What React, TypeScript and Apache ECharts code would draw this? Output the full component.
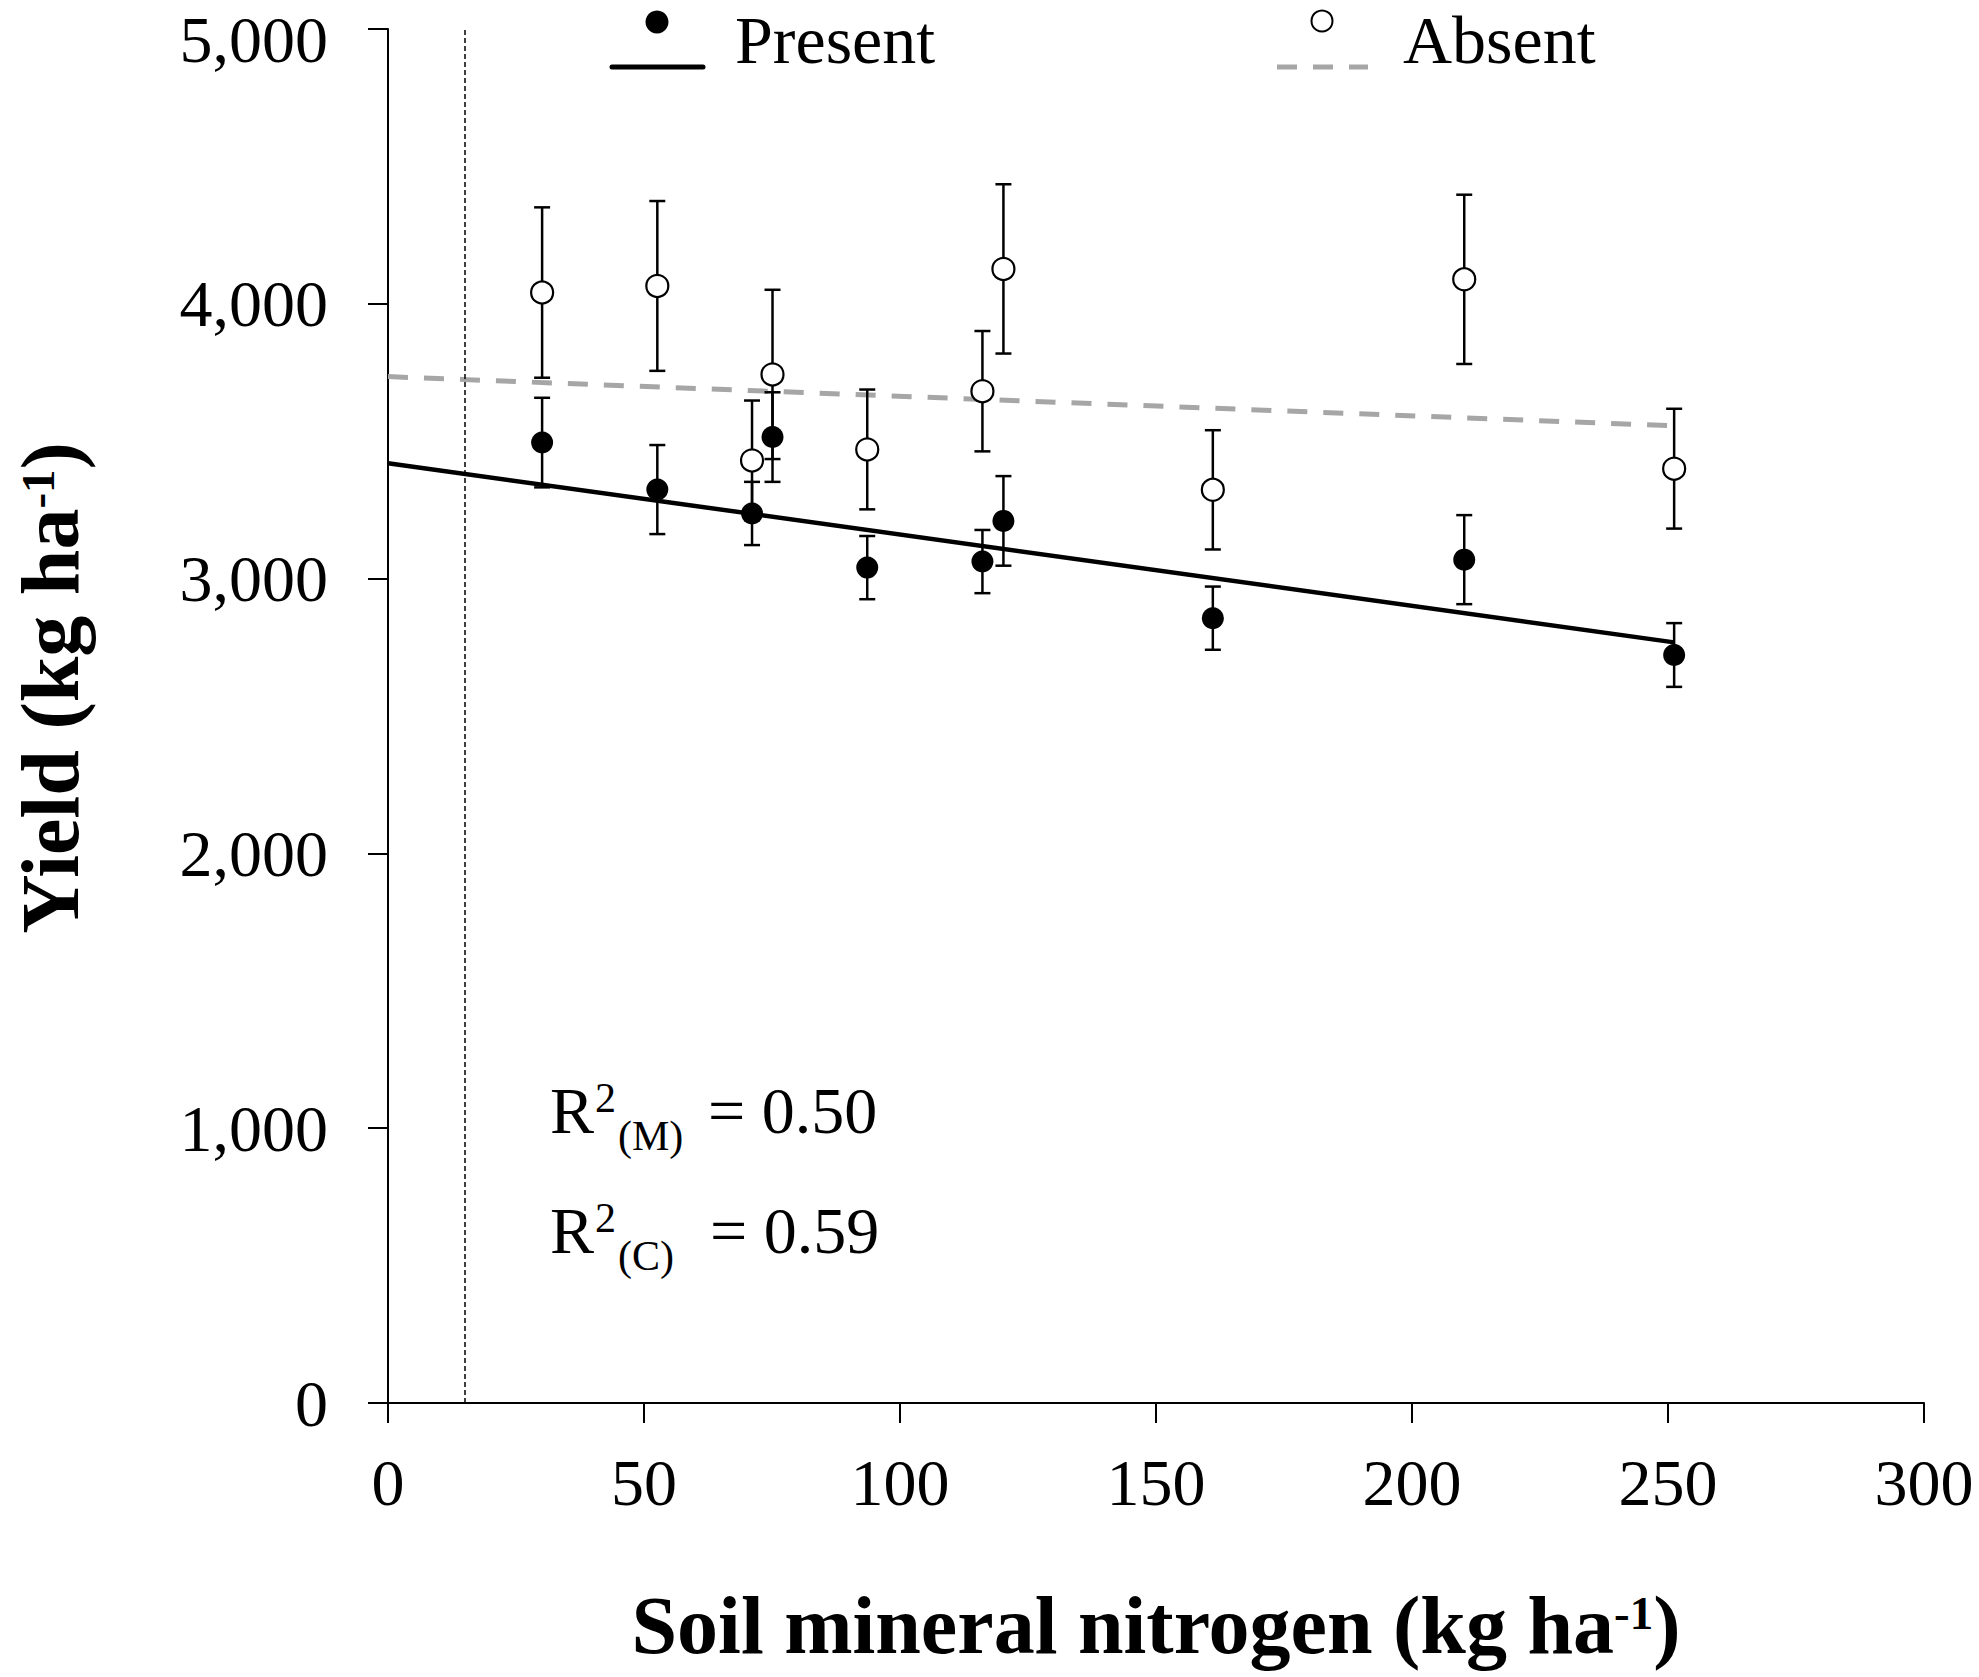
import React, { useEffect, useRef } from "react";
import * as echarts from "echarts";

// ---- data ----
const nitrogen = [30.1, 52.6, 71.1, 75.1, 93.6, 116.1, 120.2, 161.1, 210.2, 251.2];
const presentYield = [3495, 3324, 3237, 3515, 3040, 3062, 3210, 2856, 3069, 2722];
const presentSE = [163, 162, 115, 163, 115, 115, 163, 115, 162, 116];
const absentYield = [4041, 4065, 3430, 3743, 3470, 3682, 4127, 3323, 4089, 3400];
const absentSE = [310, 309, 218, 308, 218, 219, 308, 217, 308, 218];
const fitX = [0, 251.2];
const presentFit = [3420, 2768];
const absentFit = [3735, 3556];
const thresholdN = 15;
const xTickLabels = ["0", "50", "100", "150", "200", "250", "300"];
const yTickLabels = ["0", "1,000", "2,000", "3,000", "4,000", "5,000"];
const seriesNames = ["Present", "Absent"];
const r2Labels = ["(M)", "(C)"];
const r2Values = ["0.50", "0.59"];

const FONT = "'Liberation Serif', 'Times New Roman', serif";

function txt(text: string, x: number, y: number, size: number, extra: any = {}) {
  return {
    type: "text",
    x,
    y,
    silent: true,
    style: {
      text,
      fill: "#000",
      fontSize: size,
      fontFamily: FONT,
      fontWeight: "normal",
      align: "left",
      textAlign: "left",
      verticalAlign: "middle",
      textVerticalAlign: "middle",
      ...extra,
    },
  };
}

export default function App() {
  const ref = useRef<HTMLDivElement>(null);
  useEffect(() => {
    if (!ref.current) return;
    const chart = echarts.init(ref.current, undefined, { renderer: "svg" });

    const errData = (ys: number[], se: number[]) =>
      nitrogen.map((x, i) => [x, ys[i] - se[i], ys[i] + se[i]]);

    const renderErr = (params: any, api: any) => {
      const x = api.value(0);
      const top = api.coord([x, api.value(2)]);
      const bot = api.coord([x, api.value(1)]);
      const hw = 8;
      const style = { stroke: "#000", lineWidth: 2.5, fill: "none" };
      return {
        type: "group",
        children: [
          { type: "line", shape: { x1: top[0], y1: top[1], x2: bot[0], y2: bot[1] }, style },
          { type: "line", shape: { x1: top[0] - hw, y1: top[1], x2: top[0] + hw, y2: top[1] }, style },
          { type: "line", shape: { x1: bot[0] - hw, y1: bot[1], x2: bot[0] + hw, y2: bot[1] }, style },
        ],
      };
    };

    const titleRich = {
      b: { fontSize: 82, fontWeight: "bold", fontFamily: FONT, color: "#000", lineHeight: 72 },
      sup: {
        fontSize: 47,
        fontWeight: "bold",
        fontFamily: FONT,
        color: "#000",
        lineHeight: 38,
        verticalAlign: "top",
      },
    };

    const graphics: any[] = [];
    // legend: Present
    graphics.push({
      type: "circle",
      silent: true,
      shape: { cx: 657, cy: 22, r: 11.5 },
      style: { fill: "#000" },
    });
    graphics.push({
      type: "line",
      silent: true,
      shape: { x1: 612, y1: 67, x2: 703, y2: 67 },
      style: { stroke: "#000", lineWidth: 5, lineCap: "round" },
    });
    graphics.push(txt(seriesNames[0], 735, 40, 68, { lineHeight: 56 }));
    // legend: Absent
    graphics.push({
      type: "circle",
      silent: true,
      shape: { cx: 1322, cy: 21, r: 10.5 },
      style: { fill: "#fff", stroke: "#000", lineWidth: 2 },
    });
    graphics.push({
      type: "line",
      silent: true,
      shape: { x1: 1277, y1: 67, x2: 1368, y2: 67 },
      style: { stroke: "#a6a6a6", lineWidth: 5, lineDash: [20, 16] },
    });
    graphics.push(txt(seriesNames[1], 1403, 40, 68, { lineHeight: 56 }));
    // R² annotations
    [0, 1].forEach((i) => {
      const y = 1110 + i * 120;
      graphics.push(txt("R", 550, y, 66));
      graphics.push(txt("2", 595, y - 12, 42));
      graphics.push(txt(r2Labels[i], 618, y + 26, 42));
      graphics.push(txt("= " + r2Values[i], 708 + i * 2, y, 66));
    });

    chart.setOption({
      animation: false,
      backgroundColor: "#fff",
      grid: {
        left: 388,
        right: 55,
        top: 29,
        bottom: 274,
        containLabel: false,
        outerBoundsMode: "none",
      },
      xAxis: {
        type: "value",
        min: 0,
        max: 300,
        interval: 50,
        name: "{b|Soil mineral nitrogen (kg ha}{sup|-1}{b|)}",
        nameLocation: "middle",
        nameGap: 186,
        nameTextStyle: { fontFamily: FONT, fontSize: 82, fontWeight: "bold", color: "#000", rich: titleRich },
        axisLine: { show: true, onZero: false, lineStyle: { color: "#000", width: 2 } },
        axisTick: { show: true, inside: false, length: 20, lineStyle: { color: "#000", width: 2 } },
        axisLabel: {
          color: "#000",
          fontFamily: FONT,
          fontSize: 66,
          margin: 46,
          formatter: (v: number) => xTickLabels[Math.round(v / 50)] ?? String(v),
        },
        splitLine: { show: false },
      },
      yAxis: {
        type: "value",
        min: 0,
        max: 5000,
        interval: 1000,
        name: "{b|Yield (kg ha}{sup|-1}{b|)}",
        nameLocation: "middle",
        nameGap: 302,
        nameTextStyle: {
          fontFamily: FONT,
          fontSize: 82,
          fontWeight: "bold",
          color: "#000",
          rich: titleRich,
          padding: [0, 0, 0, 56],
        },
        axisLine: { show: true, onZero: false, lineStyle: { color: "#000", width: 2 } },
        axisTick: { show: true, inside: false, length: 20, lineStyle: { color: "#000", width: 2 } },
        axisLabel: {
          color: "#000",
          fontFamily: FONT,
          fontSize: 66,
          margin: 60,
          formatter: (v: number) => {
            const idx = Math.round(v / 1000);
            const label = yTickLabels[idx] ?? String(v);
            return idx === yTickLabels.length - 1 ? "{top|" + label + "}" : label;
          },
          rich: {
            top: {
              fontFamily: FONT,
              fontSize: 66,
              color: "#000",
              padding: [20, 0, 0, 0],
            },
          },
        },
        splitLine: { show: false },
      },
      graphic: { elements: graphics },
      series: [
        {
          name: "Present fit",
          type: "line",
          data: fitX.map((x, i) => [x, presentFit[i]]),
          symbol: "none",
          z: 2,
          lineStyle: { color: "#000", width: 4.5 },
          markLine: {
            silent: true,
            symbol: "none",
            label: { show: false },
            lineStyle: { color: "#000", width: 1.5, type: [5, 3] },
            data: [{ xAxis: thresholdN }],
          },
        },
        {
          name: "Absent fit",
          type: "line",
          data: fitX.map((x, i) => [x, absentFit[i]]),
          symbol: "none",
          z: 2,
          lineStyle: { color: "#a6a6a6", width: 5, type: [20, 16] },
        },
        {
          name: "Absent error",
          type: "custom",
          z: 3,
          renderItem: renderErr,
          encode: { x: 0, y: [1, 2] },
          data: errData(absentYield, absentSE),
        },
        {
          name: "Present error",
          type: "custom",
          z: 3,
          renderItem: renderErr,
          encode: { x: 0, y: [1, 2] },
          data: errData(presentYield, presentSE),
        },
        {
          name: seriesNames[1],
          type: "scatter",
          z: 4,
          symbol: "circle",
          symbolSize: 22,
          itemStyle: { color: "#fff", borderColor: "#000", borderWidth: 2.2, opacity: 1 },
          data: nitrogen.map((x, i) => [x, absentYield[i]]),
        },
        {
          name: seriesNames[0],
          type: "scatter",
          z: 5,
          symbol: "circle",
          symbolSize: 22,
          itemStyle: { color: "#000", opacity: 1 },
          data: nitrogen.map((x, i) => [x, presentYield[i]]),
        },
      ],
    });
    return () => chart.dispose();
  }, []);

  return (
    <div
      ref={ref}
      style={{ position: "fixed", left: 0, top: 0, width: 1979, height: 1677, background: "#fff" }}
    />
  );
}
